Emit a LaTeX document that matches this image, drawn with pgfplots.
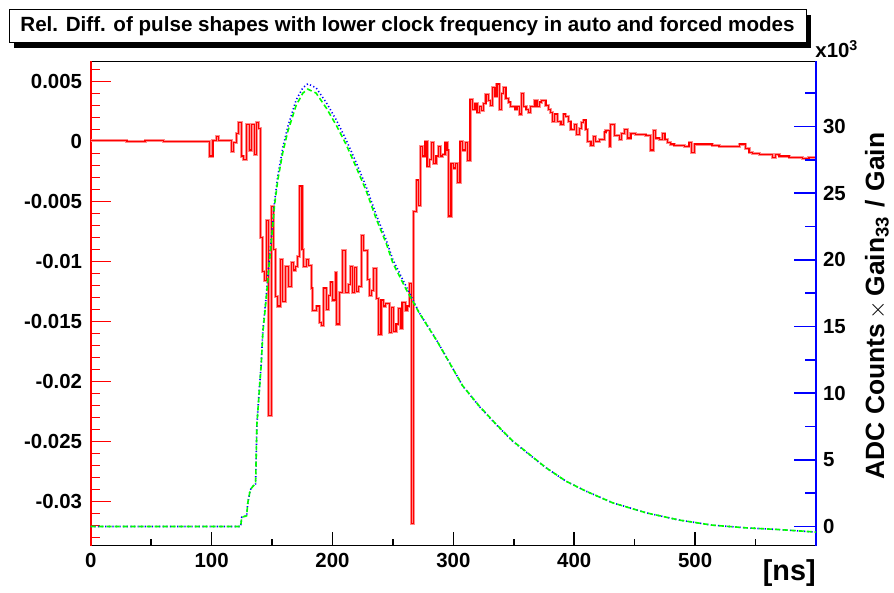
\documentclass[border=0pt]{standalone}
\usepackage{fontspec}
\setmainfont{Liberation Sans}
\usepackage{pgfplots}
\usepackage{pgfplotstable}
\pgfplotsset{compat=1.18}

% relative difference (left axis), bin start and value
\pgfplotstableread{
x y
0 0.0001
30 0.0000
45 0.0001
60 0.0000
98.3 -0.0012
101.1 0.0001
103.9 0.0004
106 0.0001
116.3 -0.0008
118.2 -0.0001
120.4 0.0007
122.3 0.0016
124.5 -0.0012
126.4 -0.0015
129.2 0.0014
131.4 -0.0007
133.3 0.0014
135.5 -0.0011
136.9 0.0016
139.1 0.0011
140.5 -0.0080
142.4 -0.0108
143.8 -0.0116
145.7 -0.0066
147.4 -0.0228
149.3 -0.0054
151.2 -0.0090
152.9 -0.0129
154.8 -0.0137
156.8 -0.0098
158.9 -0.0133
160.9 -0.0104
163.9 -0.0121
165.8 -0.0101
167.8 -0.0107
169.4 -0.0104
171.3 -0.0096
172.7 -0.0037
174.8 -0.0090
176.3 -0.0104
178.3 -0.0098
180.4 -0.0103
182.4 -0.0122
183.7 -0.0141
186.5 -0.0137
189.3 -0.0151
190.7 -0.0153
192.6 -0.0122
194.8 -0.0140
197 -0.0128
198.1 -0.0117
200.2 -0.0132
202.2 -0.0109
203.6 -0.0152
205.8 -0.0126
208.5 -0.0091
210.7 -0.0126
213 -0.0119
214.6 -0.0104
216.3 -0.0126
218.2 -0.0105
220.1 -0.0125
221.7 -0.0121
223.7 -0.0078
225.6 -0.0091
229.2 -0.0115
230.6 -0.0128
232 -0.0124
233.9 -0.0106
236.1 -0.0131
238 -0.0161
240.2 -0.0132
242.1 -0.0137
243.8 -0.0135
247.1 -0.0159
249 -0.0138
250.7 -0.0158
252.6 -0.0152
254.5 -0.0139
256.2 -0.0156
257.6 -0.0134
260.3 -0.0141
261.7 -0.0137
263.6 -0.0118
265.3 -0.0318
266.9 -0.0058
269.2 -0.0032
271.3 -0.0053
272.5 -0.0004
274.6 -0.0012
276.6 0.0000
278.2 -0.0021
280.2 -0.0015
282.1 -0.0001
283.7 -0.0018
285.7 -0.0012
287.6 -0.0004
289.3 -0.0012
291.2 -0.0011
293.1 -0.0001
294.8 -0.0007
295.9 -0.0062
298.1 -0.0018
300 -0.0022
301.7 -0.0018
303.6 -0.0034
305.5 0.0000
307.7 -0.0007
309.9 -0.0001
311.8 -0.0016
313.8 0.0035
316 0.0027
317.9 0.0032
319.6 0.0024
321.5 0.0029
323.4 0.0026
325 0.0032
327 0.0039
328.9 0.0034
330.6 0.0030
332.5 0.0045
334.5 0.0038
336.1 0.0048
338 0.0027
339.9 0.0040
341.6 0.0045
343.5 0.0036
345.5 0.0033
347.1 0.0029
351 0.0027
352.7 0.0029
354.5 0.0023
356.4 0.0040
358.1 0.0029
360.1 0.0027
361.9 0.0024
363.6 0.0029
367.5 0.0034
369.2 0.0029
371.1 0.0033
373 0.0034
376.6 0.0030
378.5 0.0027
380.2 0.0024
382.1 0.0017
384 0.0023
386.2 0.0017
389 0.0014
391.2 0.0023
393.1 0.0021
395.3 0.0017
397.3 0.0010
400 0.0014
401.9 0.0006
404.1 0.0011
406 0.0016
407.4 0.0018
409.7 0.0010
411 0.0000
413.8 -0.0003
415.7 0.0004
417.9 0.0000
420.7 0.0002
424.8 0.0008
426.2 0.0009
428.9 -0.0004
430.3 0.0014
433.1 0.0005
437.2 0.0002
439.1 0.0007
441.3 0.0010
444 0.0003
446.9 0.0007
451 0.0006
459.3 0.0005
463.4 -0.0007
465.3 0.0009
467.5 0.0003
470.2 0.0002
473 0.0007
475 0.0002
477.1 -0.0001
479.9 -0.0002
482.6 -0.0003
490.9 -0.0004
495 -0.0001
497.3 -0.0009
499.2 -0.0002
504.7 -0.0002
514 -0.0003
519.8 -0.0004
536.4 -0.0002
541.9 -0.0006
544.6 -0.0009
547.4 -0.0010
553 -0.0011
563.9 -0.0013
566.7 -0.0011
569.4 -0.0012
577.7 -0.0013
588.7 -0.0014
594.2 -0.0013
600 -0.0013
}\reldiff

% pulse shape, auto mode (blue)
\pgfplotstableread{
x y
0 0
124 0
125 700
129 800
130 1800
132 2750
134 3000
136.4 3200
137.5 7700
139.1 9800
141.1 12300
142.4 14700
145.2 17300
147.4 19700
149.3 21500
152.1 24400
154.8 26300
158.9 28400
163.1 30000
167.2 31200
170 32000
175.5 32900
179.6 33200
186.5 32900
194.8 31800
203.1 30500
211.3 29000
219.6 27300
227.8 25500
236.1 23400
244.4 21500
250 20000
261 18000
272 16000
286 14000
296.7 12300
307.7 10550
321.5 9000
335.3 7650
349 6400
362.8 5400
376.6 4400
393.1 3400
409.7 2650
431.7 1780
459.3 1030
487 480
514.3 100
541.9 -100
569.4 -230
600 -420
}\pulseauto

% pulse shape, forced mode (green)
\pgfplotstableread{
x y
0 0
124 0
125 700
129 800
130 1800
132 2750
134 3000
136.4 3200
137.5 7650
139.1 9700
141.1 12200
142.4 14550
145.2 17100
147.4 19450
149.3 21250
152.1 24100
154.8 26000
158.9 28050
163.1 29650
167.2 30800
170 31600
175.5 32500
179.6 32800
186.5 32500
194.8 31400
203.1 30100
211.3 28650
219.6 26950
227.8 25200
236.1 23100
244.4 21250
250 19750
261 17780
272 15980
286 13980
296.7 12290
307.7 10550
321.5 9030
335.3 7680
349 6420
362.8 5420
376.6 4410
393.1 3405
409.7 2650
431.7 1780
459.3 1030
487 480
514.3 100
541.9 -100
569.4 -230
600 -420
}\pulseforced

\begin{document}
\begin{tikzpicture}[x=1pt,y=1pt]
\useasboundingbox (0,0) rectangle (447,296.5);

\pgfplotsset{
  common/.style={
    at={(45.35pt,23.65pt)}, anchor=south west,
    scale only axis, width=362.65pt, height=242.1pt,
    xmin=0, xmax=600,
    tick align=inside,
    every tick label/.append style={font=\fontsize{10.2}{12}\selectfont\bfseries, text=black},
  }
}

% frame and time axis
\begin{axis}[common,
    ymin=0, ymax=1, ytick=\empty,
    axis line style={black, line width=0.8pt},
    xtick={0,100,200,300,400,500},
    xticklabels={0,100,200,300,400,500},
    minor xtick={50,150,250,350,450,550},
    xtick pos=left,
    major tick length=7pt, minor tick length=3.5pt,
    every tick/.style={black, line width=0.8pt},
  ]
\end{axis}

% relative difference, left axis
\begin{axis}[common,
    axis x line=none, axis y line*=left,
    ymin=-0.033667, ymax=0.006683,
    y axis line style={red, line width=0.8pt},
    ytick={-0.03,-0.025,-0.02,-0.015,-0.01,-0.005,0,0.005},
    yticklabels={-0.03,-0.025,-0.02,-0.015,-0.01,-0.005,0,0.005},
    minor ytick={-0.033,-0.032,-0.031,-0.029,-0.028,-0.027,-0.026,-0.024,-0.023,-0.022,-0.021,-0.019,-0.018,-0.017,-0.016,-0.014,-0.013,-0.012,-0.011,-0.009,-0.008,-0.007,-0.006,-0.004,-0.003,-0.002,-0.001,0.001,0.002,0.003,0.004,0.006},
    major tick length=10pt, minor tick length=4.7pt,
    every tick/.style={red, line width=0.7pt},
    yticklabel style={xshift=-0.8pt},
  ]
  \addplot[const plot mark left, red!45, line width=1.5pt] table {\reldiff};
  \addplot[const plot mark left, red, line width=0.6pt] table {\reldiff};
\end{axis}

% pulse shapes, right axis
\begin{axis}[common,
    axis x line=none, axis y line*=right,
    ymin=-1440, ymax=34875,
    y axis line style={blue, line width=0.8pt},
    ytick={0,5000,10000,15000,20000,25000,30000},
    yticklabels={0,5,10,15,20,25,30},
    minor ytick={2500,7500,12500,17500,22500,27500,32500},
    major tick length=11pt, minor tick length=5.5pt,
    every tick/.style={blue, line width=0.7pt},
  ]
  \addplot[blue, line width=0.8pt, dash pattern=on 0.6pt off 1.2pt] table {\pulseauto};
  \addplot[green, line width=0.8pt, dash pattern=on 2.5pt off 1.5pt] table {\pulseforced};
\end{axis}

% right axis title
\node[rotate=90, anchor=base, inner sep=0pt, font=\fontsize{13.2}{15}\selectfont\bfseries] at (442,143.5) {ADC Counts\,$\times$\,Gain\textsubscript{33}\,\,/\,\,Gain};

% title box with shadow
\fill[black] (7,272.5) rectangle (405.5,289);
\draw[black, line width=0.5pt, fill=white] (4.5,275) rectangle (403,291.5);
\node[font=\fontsize{10.3}{12}\selectfont\bfseries, inner sep=0pt] at (203.75,283.25) {Rel. Diff. of pulse shapes with lower clock frequency in auto and forced modes};

% exponent of right axis
\node[font=\fontsize{10.2}{12}\selectfont\bfseries, anchor=base west, inner sep=0pt] at (407.5,267.5) {x10\textsuperscript{3}};

% time unit
\node[font=\fontsize{14.4}{16}\selectfont\bfseries, anchor=base east, inner sep=0pt] at (408,6) {[ns]};
\end{tikzpicture}
\end{document}
